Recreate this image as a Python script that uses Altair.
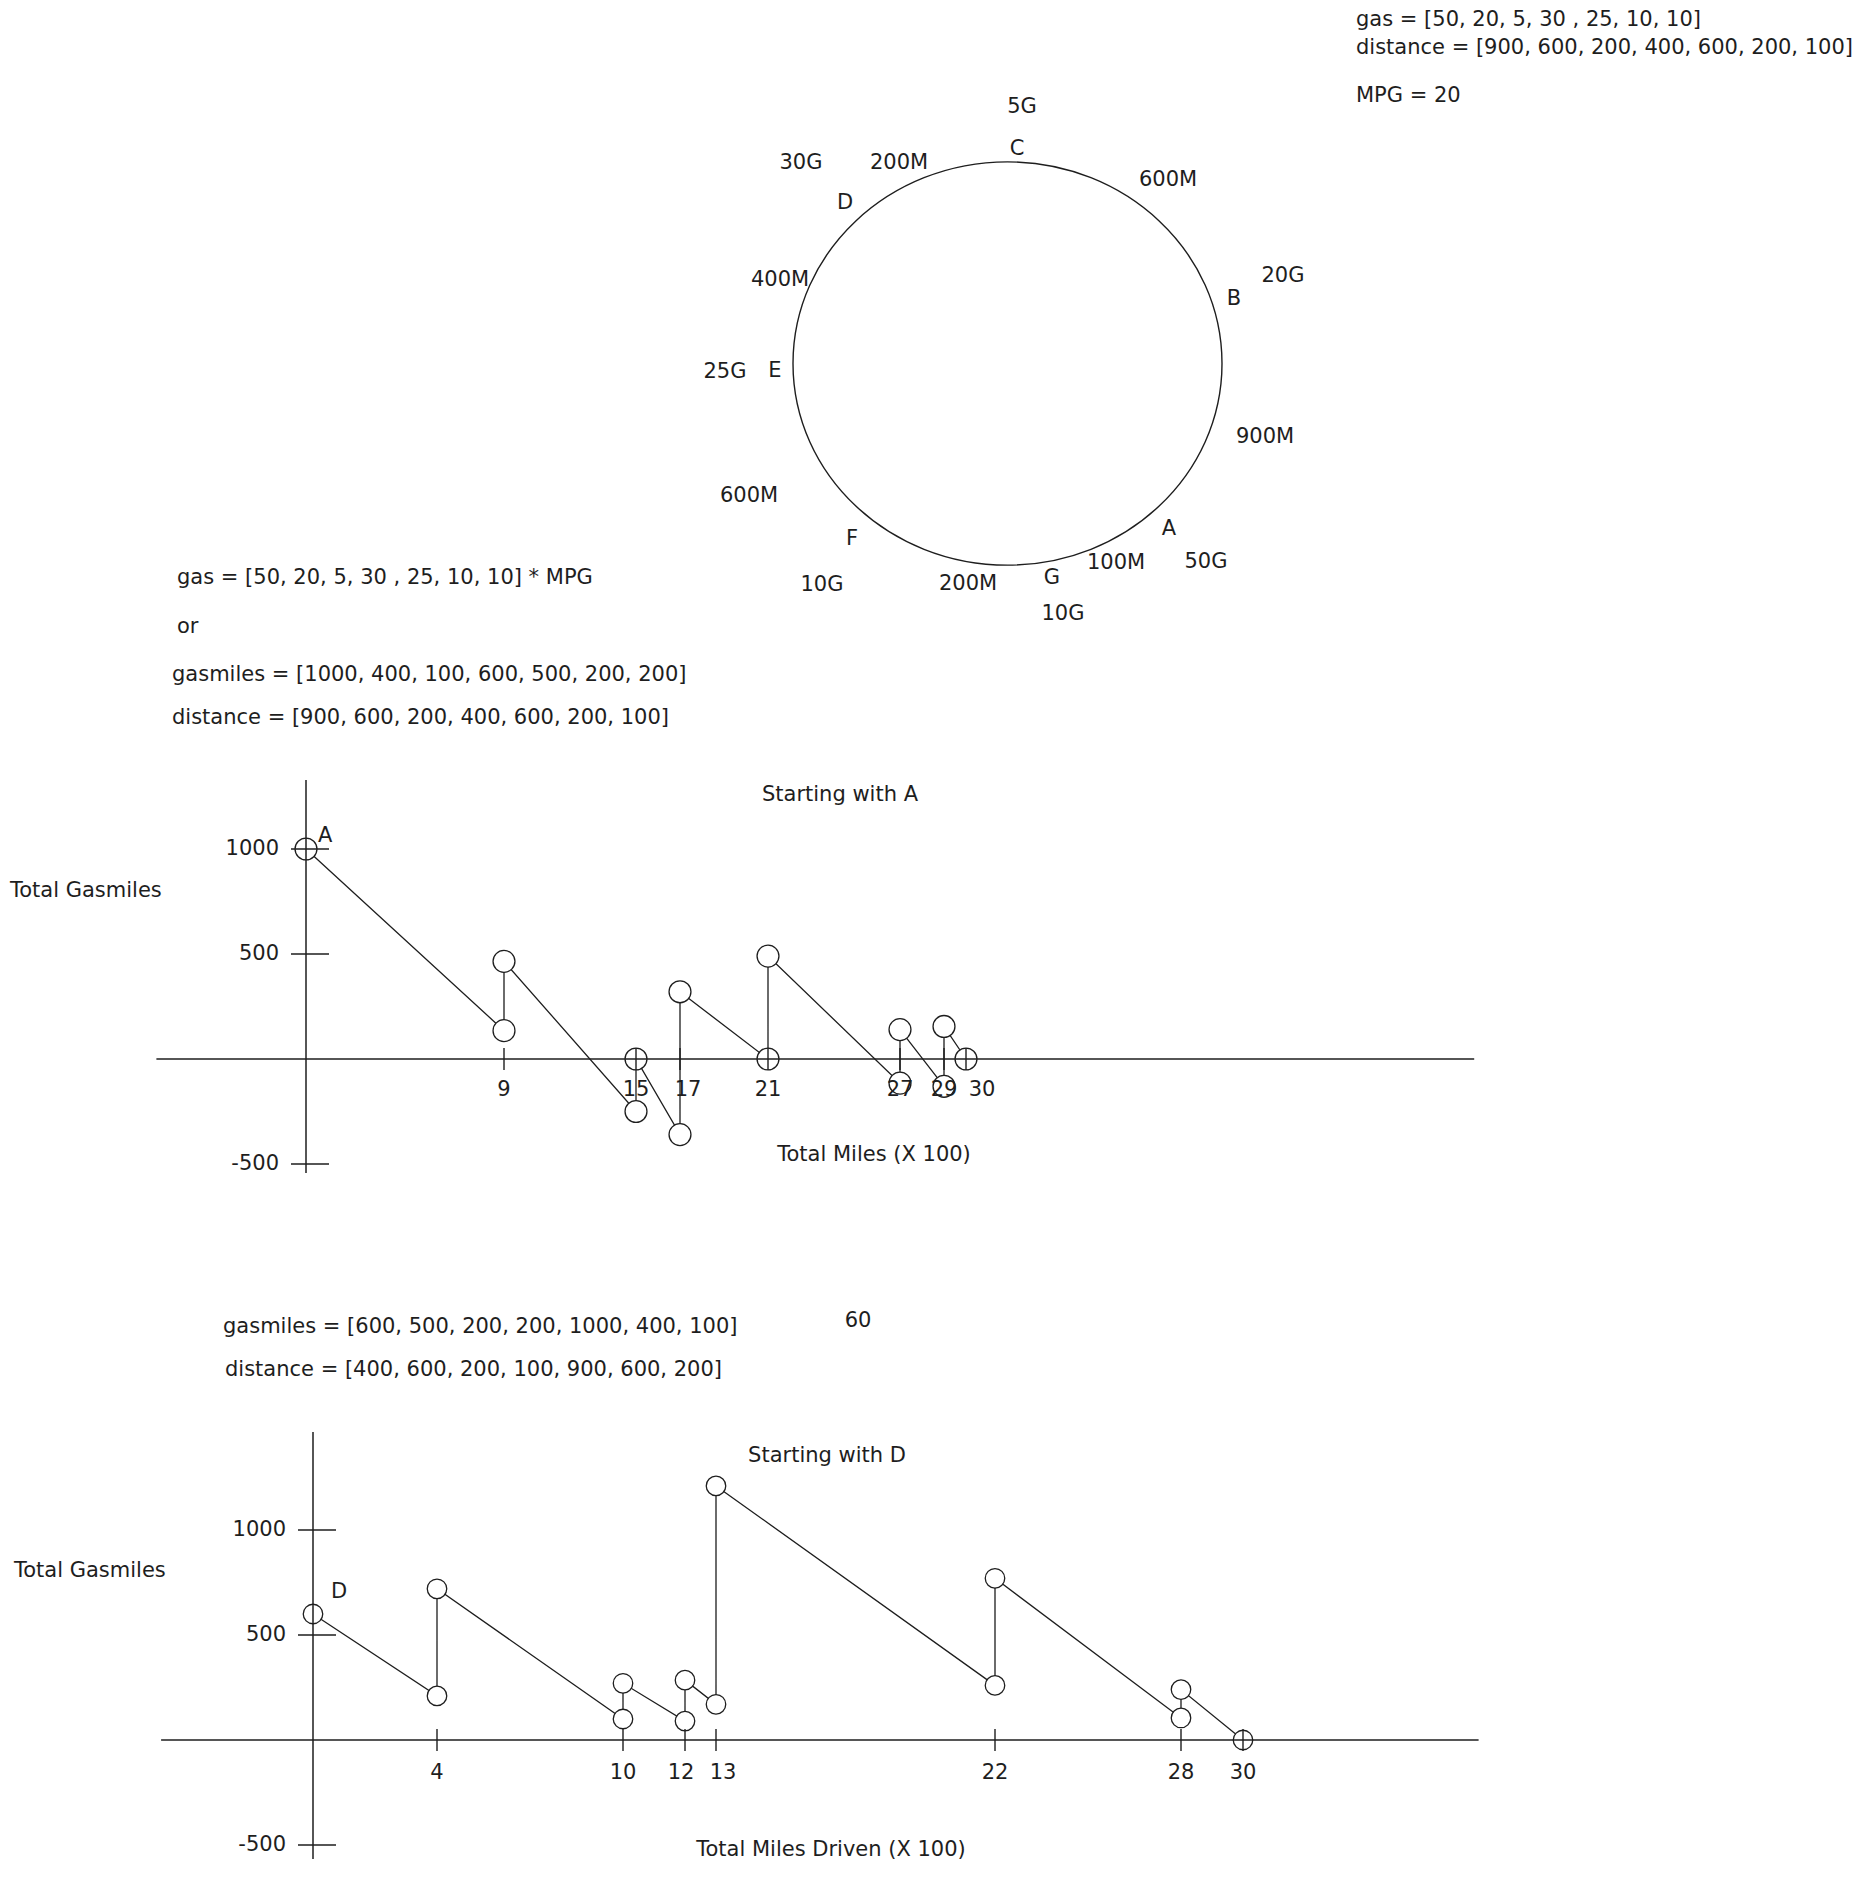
import altair as alt
import pandas as pd

# ---------------- data ----------------
STATIONS = ["A", "B", "C", "D", "E", "F", "G"]
GAS = [50, 20, 5, 30, 25, 10, 10]
DISTANCE = [900, 600, 200, 400, 600, 200, 100]

# circuit path starting at A (total miles x100, total gasmiles)
A_MILES = [0, 9, 9, 15, 15, 17, 17, 21, 21, 27, 27, 29, 29, 30]
A_GASMILES = [1000, 135, 465, -250, 0, -360, 320, 0, 490, -115, 140, -130, 155, 0]
A_TICKS = [9, 15, 17, 21, 27, 29, 30]

# circuit path starting at D
D_MILES = [0, 4, 4, 10, 10, 12, 12, 13, 13, 22, 22, 28, 28, 30]
D_GASMILES = [600, 210, 720, 100, 270, 90, 285, 170, 1210, 260, 770, 105, 240, 0]
D_TICKS = [4, 10, 12, 13, 22, 28, 30]

Y_TICKS = [1000, 500, -500]

TOP_NOTES = [
    "gas = [50, 20, 5, 30 , 25, 10, 10]",
    "distance = [900, 600, 200, 400, 600, 200, 100]",
    "MPG = 20",
]
LEFT_NOTES = [
    "gas = [50, 20, 5, 30 , 25, 10, 10] * MPG",
    "or",
    "gasmiles = [1000, 400, 100, 600, 500, 200, 200]",
    "distance = [900, 600, 200, 400, 600, 200, 100]",
]
MID_NOTES = [
    "gasmiles = [600, 500, 200, 200, 1000, 400, 100]",
    "distance = [400, 600, 200, 100, 900, 600, 200]",
]
MID_NUMBER = ["60"]

# ---------------- layout (page pixels) ----------------
FONT = "DejaVu Sans"
FS = 21
INK = "#1e1e1e"
W = 1853

TOP_NOTES_POS = [(1356, 20), (1356, 48), (1356, 96)]
LEFT_NOTES_POS = [(177, 578), (177, 627), (172, 675), (172, 718)]
LETTER_POS = [(1169, 529), (1234, 299), (1017, 149), (845, 203), (775, 371), (852, 539), (1052, 578)]
GAS_POS = [(1206, 562), (1283, 276), (1022, 107), (801, 163), (725, 372), (822, 585), (1063, 614)]
DIST_POS = [(1265, 437), (1168, 180), (899, 163), (780, 280), (749, 496), (968, 584), (1116, 563)]
RING_CENTER = (1007.5, 363.5)
RING_W = 429
ELLIPSE = ("M1,0C1,0.519,0.552,0.94,0,0.94C-0.552,0.94,-1,0.519,-1,0"
           "C-1,-0.519,-0.552,-0.94,0,-0.94C0.552,-0.94,1,-0.519,1,0Z")

# horizontal nudges (pixels) of the x tick labels, as hand-placed in the sketch
A_LABEL_NUDGE = [0, 0, 8, 0, 0, 0, 16]
D_LABEL_NUDGE = [0, 0, -4, 7, 0, 0, 0]


def place(labels, positions, ox, oy):
    return pd.DataFrame({
        "label": labels,
        "px": [p[0] - ox for p in positions],
        "py": [p[1] - oy for p in positions],
    })


def pix_text(df, align):
    return alt.Chart(df).mark_text(
        align=align, baseline="middle", font=FONT, fontSize=FS, color=INK
    ).encode(
        x=alt.X("px:Q", scale=None, axis=None),
        y=alt.Y("py:Q", scale=None, axis=None),
        text=alt.Text("label:N"),
    )


# ---------- top panel: notes + circuit ----------
P1_TOP = 8
notes_df = place(TOP_NOTES + LEFT_NOTES, TOP_NOTES_POS + LEFT_NOTES_POS, 8, P1_TOP)
ring_labels = (STATIONS + [f"{g}G" for g in GAS] + [f"{d}M" for d in DISTANCE])
ring_df = place(ring_labels, LETTER_POS + GAS_POS + DIST_POS, 8, P1_TOP)
ring = alt.Chart(pd.DataFrame({"px": [RING_CENTER[0] - 8], "py": [RING_CENTER[1] - P1_TOP]})).mark_point(
    shape=ELLIPSE, size=RING_W ** 2, filled=False, stroke=INK, strokeWidth=1.4, opacity=1
).encode(
    x=alt.X("px:Q", scale=None, axis=None),
    y=alt.Y("py:Q", scale=None, axis=None),
)
p1 = alt.layer(ring, pix_text(notes_df, "left"), pix_text(ring_df, "center")).properties(
    width=W, height=752
)


def title_layer(text, px, py, align):
    return alt.Chart(pd.DataFrame({"label": [text]})).mark_text(
        align=align, baseline="middle", font=FONT, fontSize=FS, color=INK
    ).encode(x=alt.value(px), y=alt.value(py), text="label:N")


def sketch(miles, gm, ticks, nudge, start, x0, s, y0, k, H, x_ext, y_ext, titles,
           tick_dy, start_dx, start_dy, pt_size):
    xs = alt.Scale(domain=[-x0 / s, (W - x0) / s], nice=False, zero=False)
    ys = alt.Scale(domain=[(y0 - H) / k, y0 / k], nice=False, zero=False)
    X = alt.X("miles:Q", scale=xs, axis=None)
    Y = alt.Y("gm:Q", scale=ys, axis=None)

    path = pd.DataFrame({"step": list(range(len(miles))), "miles": miles, "gm": gm})
    line = alt.Chart(path).mark_line(color=INK, strokeWidth=1.3).encode(x=X, y=Y, order="step:Q")
    pts = alt.Chart(path).mark_point(
        shape="circle", size=pt_size, filled=False, fill="white", fillOpacity=1,
        stroke=INK, strokeWidth=1.3, opacity=1
    ).encode(x=X, y=Y)

    axes_df = pd.DataFrame({"miles": [x_ext[0], 0], "miles2": [x_ext[1], 0],
                            "gm": [0, y_ext[0]], "gm2": [0, y_ext[1]]})
    axes = alt.Chart(axes_df).mark_rule(color=INK, strokeWidth=1.5).encode(
        x=X, x2="miles2:Q", y=Y, y2="gm2:Q")

    xt_df = pd.DataFrame({"miles": ticks, "gm": [0] * len(ticks),
                          "label": [str(t) for t in ticks]})
    xt = alt.Chart(xt_df).mark_tick(orient="vertical", size=22, thickness=1.4, color=INK, opacity=1).encode(x=X, y=Y)
    # label anchor = tick value shifted by the hand-placed pixel nudge (converted to data units)
    xl_df = xt_df.assign(miles=[t + n / s for t, n in zip(ticks, nudge)])
    xl = alt.Chart(xl_df).mark_text(font=FONT, fontSize=FS, color=INK, dy=tick_dy,
                                    align="center", baseline="middle").encode(
        x=X, y=Y, text="label:N")

    yt_df = pd.DataFrame({"miles": [0] * len(Y_TICKS), "gm": Y_TICKS, "label": [str(v) for v in Y_TICKS]})
    yt = alt.Chart(yt_df).mark_tick(orient="horizontal", size=38, thickness=1.4, color=INK,
                                    opacity=1, xOffset=4).encode(x=X, y=Y)
    yl = alt.Chart(yt_df).mark_text(font=FONT, fontSize=FS, color=INK, dx=-27,
                                    align="right", baseline="middle").encode(x=X, y=Y, text="label:N")

    st_df = pd.DataFrame({"miles": [miles[0]], "gm": [gm[0]], "label": [start]})
    st = alt.Chart(st_df).mark_text(font=FONT, fontSize=FS, color=INK, dx=start_dx, dy=start_dy,
                                    align="left", baseline="middle").encode(x=X, y=Y, text="label:N")

    tl = [title_layer(*t) for t in titles]
    return alt.layer(line, pts, axes, xt, yt, xl, yl, st, *tl).properties(width=W, height=H)


# ---------- chart 1: starting with A (panel top at page y=760) ----------
p2 = sketch(
    A_MILES, A_GASMILES, A_TICKS, A_LABEL_NUDGE, STATIONS[0],
    x0=298, s=22, y0=299, k=0.21, H=530,
    x_ext=(-6.8, 53.1), y_ext=(1329, -543),
    titles=[("Starting with A", 832, 35, "center"),
            ("Total Gasmiles", 2, 131, "left"),
            ("Total Miles (X 100)", 866, 395, "center")],
    tick_dy=31, start_dx=12, start_dy=-13, pt_size=480,
)

# ---------- middle notes (panel top at page y=1290) ----------
mid_df = place(MID_NOTES, [(223, 1327), (225, 1370)], 8, 1290)
mid_num = place(MID_NUMBER, [(858, 1321)], 8, 1290)
p3 = alt.layer(pix_text(mid_df, "left"), pix_text(mid_num, "center")).properties(width=W, height=120)

# ---------- chart 2: starting with D (panel top at page y=1410) ----------
p4 = sketch(
    D_MILES, D_GASMILES, D_TICKS, D_LABEL_NUDGE, STATIONS[3],
    x0=305, s=31, y0=330, k=0.21, H=469,
    x_ext=(-4.9, 37.6), y_ext=(1467, -567),
    titles=[("Starting with D", 819, 46, "center"),
            ("Total Gasmiles", 6, 161, "left"),
            ("Total Miles Driven (X 100)", 823, 440, "center")],
    tick_dy=33, start_dx=18, start_dy=-22, pt_size=380,
)

chart = alt.vconcat(
    p1, p2, p3, p4, spacing=0, bounds="flush", padding=0, background="white"
).configure_view(stroke=None)

chart.save("out.html", embed_options={"renderer": "svg", "actions": False})
